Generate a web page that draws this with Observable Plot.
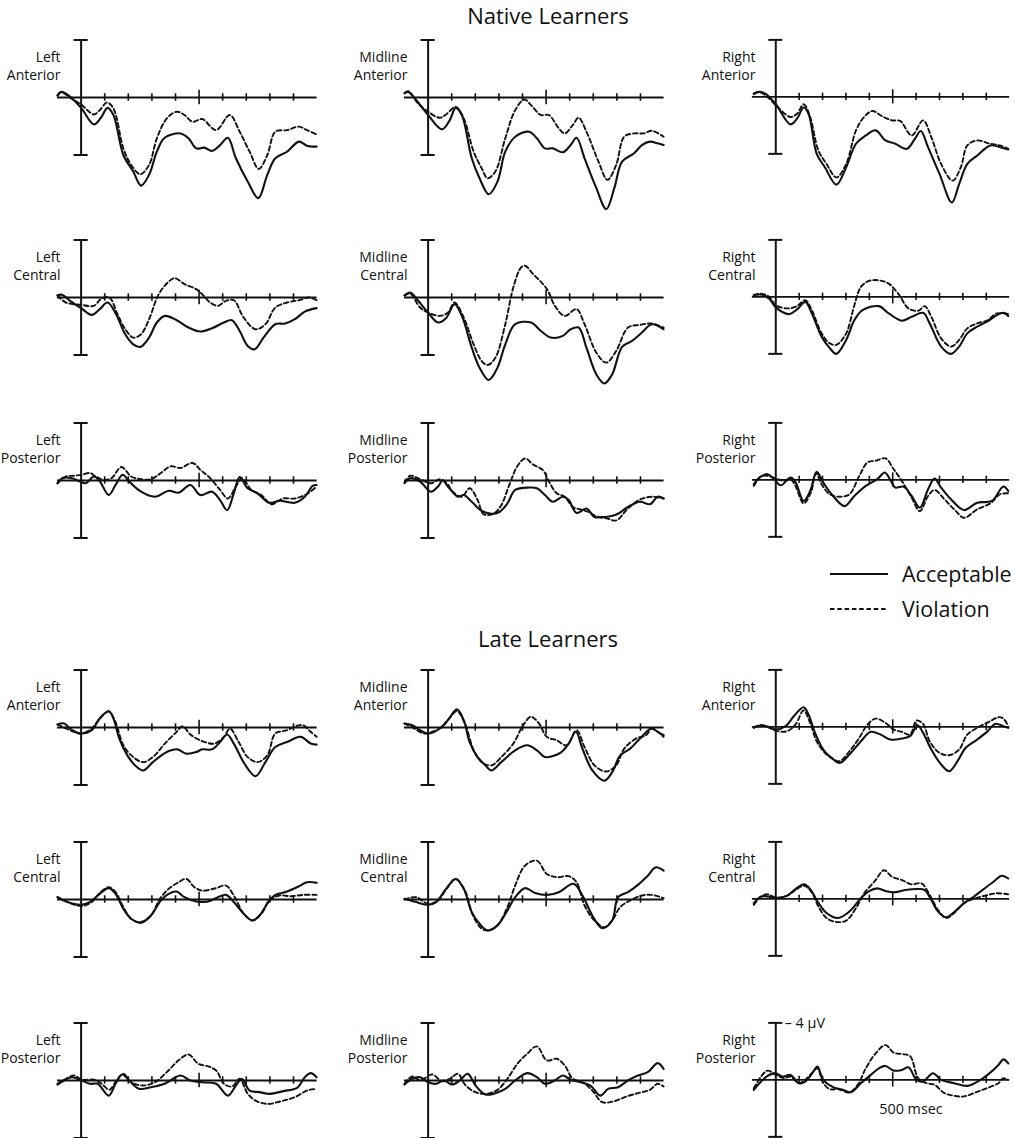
<!DOCTYPE html>
<html><head><meta charset="utf-8">
<script src="https://cdn.jsdelivr.net/npm/d3@7"></script>
<script src="https://cdn.jsdelivr.net/npm/@observablehq/plot@0.6"></script>
<style>
body{margin:0;background:#fff;}
#fig{position:relative;width:1015px;height:1138px;overflow:hidden;font-family:"Open Sans",sans-serif;color:#111;background:#fff;}
.lab{position:absolute;text-align:right;font-size:14px;line-height:18px;white-space:nowrap;width:120px;}
.title{position:absolute;left:348px;width:400px;text-align:center;font-size:22px;line-height:30px;}
.leg{position:absolute;font-size:21.5px;line-height:30px;white-space:nowrap;}
.panel{position:absolute;}
</style></head><body>
<div id="fig"></div>
<script>
// ---------- labels ----------
const groupTitles = ["Native Learners", "Late Learners"];
const colNames = ["Left", "Midline", "Right"];
const rowNames = ["Anterior", "Central", "Posterior"];
const legendLabels = ["Acceptable", "Violation"];
const voltLabel = "\u2013 4 \u00b5V";
const timeLabel = "500 msec";
const tickTimes = [100, 200, 300, 400, 600, 700, 800, 900];
const longTick = [500];

// ---------- data: [time ms, amplitude µV] (negative plotted up) ----------
// Native learners
const naLA_acc = [[-100,-0.12],[-84,-0.39],[-55,-0.16],[0,0.72],[54,1.87],[84,1.41],[112,0.72],[137,1.22],[179,4.0],[221,5.15],[254,6.13],[288,5.38],[321,3.77],[354,2.80],[421,2.5],[455,2.84],[488,3.54],[522,3.49],[555,3.72],[589,3.31],[622,2.80],[656,4.23],[706,5.85],[751,7.0],[789,5.38],[823,4.23],[873,3.77],[923,3.07],[957,3.35],[998,3.42]];
const naLA_vio = [[-100,-0.16],[-84,-0.39],[-47,0.02],[0,0.49],[54,1.18],[79,0.88],[109,0.35],[137,0.76],[179,3.54],[212,4.69],[251,5.34],[288,4.69],[321,2.84],[363,1.46],[405,0.99],[438,1.22],[472,1.69],[513,1.50],[572,2.27],[630,1.22],[672,2.38],[714,3.77],[753,4.97],[789,4.0],[823,2.38],[873,2.27],[923,2.03],[957,2.27],[998,2.57]];
const naMA_acc = [[-100,-0.28],[-84,-0.39],[-50,0.18],[0,1.22],[59,2.22],[92,1.57],[117,0.72],[143,1.22],[185,4.23],[218,5.62],[257,6.73],[294,5.85],[327,3.77],[369,2.73],[428,2.38],[461,2.84],[495,3.54],[529,3.54],[571,3.81],[604,3.31],[629,2.80],[663,4.23],[713,6.31],[755,7.77],[789,6.31],[822,4.46],[873,3.88],[906,3.31],[940,3.07],[973,3.19],[998,3.31]];
const naMA_vio = [[-100,-0.32],[-84,-0.44],[-42,0.42],[0,0.99],[50,1.41],[76,1.18],[117,0.65],[151,1.46],[193,3.77],[227,4.92],[252,5.62],[285,5.15],[327,2.84],[369,0.88],[408,0.14],[436,0.53],[478,1.22],[512,1.22],[554,2.15],[579,2.50],[613,1.92],[638,1.41],[671,2.38],[722,4.46],[760,5.73],[797,4.69],[831,2.73],[873,2.50],[914,2.50],[948,2.31],[998,2.73]];
const naRA_acc = [[-94,-0.19],[-70,-0.35],[-42,-0.19],[0,0.52],[63,1.93],[91,1.53],[119,0.75],[140,1.18],[175,4.0],[210,4.94],[259,6.16],[301,4.94],[343,3.29],[385,2.71],[427,2.35],[469,3.06],[511,3.29],[560,3.65],[595,2.94],[620,2.40],[651,3.53],[700,5.41],[753,7.41],[784,6.12],[819,4.71],[861,4.12],[917,3.41],[959,3.53],[994,3.69]];
const naRA_vio = [[-94,-0.24],[-70,-0.35],[-28,0.12],[0,0.59],[63,1.41],[91,1.18],[119,0.52],[147,1.41],[182,3.76],[217,4.71],[259,5.65],[301,4.71],[343,2.35],[378,1.41],[413,0.99],[455,1.36],[497,1.65],[532,1.69],[581,2.71],[630,1.65],[665,2.82],[707,4.71],[756,5.88],[791,4.94],[819,3.41],[861,3.06],[917,3.29],[959,3.41],[994,3.65]];
const naLC_acc = [[-100,-0.16],[-80,-0.19],[-47,0.23],[0,0.74],[45,1.21],[79,0.81],[112,0.35],[145,1.05],[187,2.56],[221,3.26],[251,3.44],[288,2.79],[321,1.74],[355,1.28],[405,1.58],[455,2.09],[505,2.37],[555,2.14],[605,1.74],[639,1.58],[672,2.33],[706,3.37],[736,3.60],[773,2.79],[823,1.86],[864,1.81],[906,1.51],[948,0.98],[998,0.74]];
const naLC_vio = [[-100,-0.12],[-64,0.35],[0,0.51],[54,0.58],[87,0.07],[120,0],[154,1.16],[187,2.21],[221,2.79],[254,2.56],[288,1.51],[329,-0.23],[368,-1.05],[396,-1.35],[438,-0.93],[488,-0.58],[513,-0.23],[547,0.35],[580,0.58],[614,0.23],[647,0.19],[689,1.40],[739,2.21],[781,1.86],[823,0.70],[873,0.35],[923,0.19],[965,0],[998,0.19]];
const naMC_acc = [[-100,-0.16],[-76,-0.35],[-42,0.23],[0,1.05],[42,1.74],[76,1.44],[112,0.47],[143,1.28],[185,3.49],[218,4.88],[257,5.74],[294,4.88],[327,3.26],[369,1.86],[436,1.74],[478,2.33],[520,2.79],[571,2.67],[604,2.21],[638,2.09],[671,3.49],[713,5.35],[747,5.98],[780,5.35],[822,3.44],[864,3.02],[906,2.44],[948,1.86],[998,2.21]];
const naMC_vio = [[-100,-0.12],[-76,-0.28],[-34,0.70],[0,1.05],[50,1.28],[84,1.05],[112,0.35],[151,1.40],[193,3.26],[227,4.42],[252,4.70],[285,4.19],[327,1.86],[361,-0.70],[394,-2.09],[411,-2.21],[445,-1.63],[487,-0.93],[508,-0.47],[537,0.58],[579,1.28],[629,0.81],[663,1.86],[713,3.84],[755,4.53],[797,3.72],[847,2.09],[897,1.91],[948,1.81],[998,2.09]];
const naRC_acc = [[-94,-0.12],[-63,-0.16],[-28,0.12],[0,0.74],[56,1.21],[91,0.88],[126,0.35],[154,1.16],[196,2.79],[231,3.60],[259,4.0],[301,3.02],[336,1.63],[371,0.93],[441,0.65],[483,1.16],[539,1.67],[581,1.40],[630,1.12],[658,1.86],[707,3.49],[749,4.0],[784,3.49],[819,2.56],[861,2.09],[903,1.74],[945,1.28],[973,1.12],[994,1.35]];
const naRC_vio = [[-94,-0.12],[-63,-0.23],[-28,0],[0,0.58],[49,0.81],[91,0.65],[126,0.23],[154,0.93],[196,2.56],[231,3.26],[259,3.37],[301,2.56],[336,0.58],[364,-0.70],[399,-1.12],[441,-1.16],[483,-0.93],[525,-0.19],[567,0.81],[609,0.98],[637,0.65],[665,1.40],[707,2.91],[749,3.49],[784,3.02],[819,2.21],[861,1.86],[903,1.67],[945,1.16],[994,1.21]];
const naLP_acc = [[-100,0.19],[-80,-0.16],[-38,-0.16],[-5,0.07],[20,0.19],[54,-0.28],[79,0.05],[117,1.01],[146,0.31],[176,-0.40],[204,0.07],[254,0.78],[313,1.13],[371,0.71],[413,0.85],[463,0.31],[505,1.01],[555,0.78],[589,1.36],[619,2.07],[647,0.89],[672,-0.24],[706,0.54],[747,0.89],[798,1.55],[840,1.41],[906,1.55],[948,1.13],[981,0.38],[998,0.31]];
const naLP_vio = [[-100,0.19],[-64,-0.28],[-30,-0.33],[3,-0.40],[37,-0.52],[62,-0.28],[95,-0.05],[129,-0.16],[171,-0.94],[212,-0.28],[254,-0.09],[296,-0.09],[338,-0.52],[380,-0.99],[421,-0.87],[472,-1.22],[505,-0.75],[547,-0.16],[589,0.66],[622,1.25],[656,0.42],[681,-0.16],[722,0.66],[764,1.01],[806,1.65],[856,1.25],[906,1.25],[957,0.94],[998,0.42]];
const naMP_acc = [[-100,0.19],[-76,-0.16],[-34,0.07],[12,0.78],[42,0.42],[62,0],[84,0.42],[126,1.13],[151,1.01],[185,1.48],[227,2.12],[268,2.31],[302,2.19],[336,1.60],[369,0.66],[428,0.49],[461,0.54],[495,1.01],[529,1.48],[571,1.13],[596,1.36],[629,2.26],[671,1.95],[705,2.54],[738,2.54],[772,2.49],[805,2.31],[847,1.84],[898,1.48],[940,1.65],[973,1.13],[998,1.25]];
const naMP_vio = [[-100,0.14],[-76,-0.33],[-34,-0.09],[12,0.19],[50,-0.09],[76,0.14],[109,0.85],[143,1.13],[176,0.54],[210,1.36],[235,2.35],[277,2.31],[310,1.72],[344,0.31],[378,-0.99],[411,-1.53],[445,-1.11],[487,-0.71],[512,0.07],[545,0.89],[579,1.13],[613,1.84],[646,2.02],[680,2.19],[713,2.49],[763,2.66],[797,2.78],[847,1.95],[898,1.32],[948,1.13],[998,1.25]];
const naRP_acc = [[-94,0.31],[-70,-0.16],[-35,-0.40],[-7,-0.05],[21,0.38],[63,-0.16],[84,0.14],[119,1.48],[147,0.78],[175,-0.56],[203,0.19],[245,1.13],[294,1.84],[336,1.13],[385,0.42],[434,-0.05],[466,-0.52],[490,0],[511,0.54],[546,0.47],[581,1.13],[616,1.95],[651,0.66],[679,-0.09],[707,0.54],[749,1.36],[805,2.12],[861,1.60],[924,1.48],[973,0.47],[994,0.78]];
const naRP_vio = [[-94,0.42],[-63,-0.24],[-35,-0.28],[0,-0.09],[35,0.07],[63,-0.05],[84,0.42],[119,1.65],[150,0.89],[172,-0.47],[196,0.31],[231,1.01],[273,1.18],[315,1.01],[357,-0.28],[392,-1.22],[427,-1.34],[469,-1.51],[504,-0.75],[539,0.07],[581,1.25],[616,2.19],[651,1.13],[679,0.71],[721,1.36],[763,2.07],[805,2.66],[861,2.07],[917,1.65],[959,1.01],[994,0.94]];
// Late learners
const laLA_acc = [[-100,-0.21],[-72,-0.28],[-38,0.19],[0,0.42],[45,0.19],[79,-0.63],[117,-1.15],[137,-0.63],[162,0.77],[196,1.94],[229,2.64],[263,2.99],[304,2.41],[363,1.71],[408,1.52],[446,1.82],[488,1.71],[513,1.52],[555,1.52],[589,1.01],[619,0.49],[647,1.12],[697,2.64],[739,3.39],[781,2.41],[823,1.36],[873,1.01],[931,0.65],[973,1.12],[998,1.19]];
const laLA_vio = [[-100,-0.21],[-64,0.07],[-30,0.30],[0,0.42],[45,0.07],[79,-0.63],[117,-1.10],[145,-0.40],[179,1.24],[221,2.06],[263,2.41],[304,2.06],[355,1.12],[405,0.30],[430,-0.09],[463,0.49],[505,0.89],[564,1.12],[605,0.65],[631,0.07],[664,0.89],[706,2.06],[747,2.41],[789,1.94],[823,0.42],[873,0.19],[915,-0.12],[940,-0.16],[973,0.30],[998,0.65]];
const laMA_acc = [[-100,-0.28],[-67,-0.16],[-34,0.19],[0,0.42],[50,0.07],[84,-0.51],[122,-1.26],[151,-0.51],[176,1.01],[210,2.06],[243,2.64],[268,2.99],[310,2.41],[369,1.59],[420,1.24],[461,1.59],[495,2.06],[529,1.99],[562,1.75],[596,1.12],[626,0.30],[654,1.47],[696,2.99],[747,3.70],[780,3.11],[814,1.94],[856,1.47],[898,0.77],[945,0.07],[973,0.30],[998,0.54]];
const laMA_vio = [[-100,-0.28],[-59,0.07],[-17,0.42],[17,0.30],[59,-0.05],[89,-0.63],[122,-1.15],[156,-0.28],[193,1.59],[227,2.41],[268,2.64],[310,2.06],[361,1.12],[403,-0.16],[436,-0.75],[470,-0.28],[503,0.65],[545,0.89],[587,1.24],[629,0.19],[663,1.36],[705,2.64],[755,3.06],[797,2.64],[831,1.47],[881,0.77],[923,0.54],[948,0.07],[973,0.30],[998,0.65]];
const laRA_acc = [[-94,0.07],[-63,-0.12],[-28,0.02],[0,0.19],[42,-0.05],[77,-0.75],[119,-1.38],[140,-0.87],[168,0.42],[203,1.59],[238,2.18],[273,2.53],[315,1.94],[364,1.01],[406,0.35],[448,0.54],[490,0.89],[539,0.82],[574,0.65],[606,-0.12],[630,0.42],[665,1.59],[707,2.64],[742,3.11],[777,2.41],[812,1.47],[861,0.89],[903,0.35],[938,-0.21],[973,-0.05],[994,0.07]];
const laRA_vio = [[-94,0.02],[-63,-0.12],[-28,0.07],[7,0.30],[49,0.30],[84,-0.16],[119,-1.15],[147,-0.28],[175,1.01],[210,1.82],[238,2.18],[273,2.41],[315,1.71],[357,0.77],[392,-0.16],[427,-0.58],[469,-0.28],[504,0.19],[539,0.35],[574,0.54],[602,-0.44],[630,-0.21],[658,1.01],[700,1.82],[742,1.99],[784,1.59],[819,0.54],[861,0.07],[917,-0.40],[952,-0.68],[973,-0.58],[994,-0.05]];
const laLC_acc = [[-100,-0.16],[-64,0.14],[0,0.37],[37,0.18],[79,-0.39],[117,-0.79],[146,-0.39],[179,0.65],[212,1.34],[254,1.62],[296,1.11],[338,0.07],[371,-0.39],[405,-0.55],[438,-0.16],[488,0.14],[538,0.14],[580,-0.16],[614,-0.32],[647,0.18],[689,0.99],[726,1.46],[756,1.11],[798,0.07],[823,-0.32],[873,-0.55],[923,-0.92],[957,-1.20],[998,-1.16]];
const laLC_vio = [[-100,-0.16],[-55,0.18],[0,0.46],[45,0.18],[79,-0.46],[117,-0.86],[146,-0.51],[179,0.53],[212,1.34],[251,1.57],[296,1.11],[334,-0.05],[371,-0.74],[413,-1.20],[446,-1.43],[480,-0.86],[513,-0.62],[572,-0.79],[614,-0.97],[647,-0.28],[689,0.99],[726,1.46],[764,0.99],[798,0.07],[840,-0.28],[890,-0.23],[940,-0.32],[998,-0.32]];
const laMC_acc = [[-100,-0.05],[-50,0.18],[0,0.37],[34,0.18],[76,-0.74],[117,-1.43],[151,-0.74],[185,0.88],[218,1.69],[252,2.15],[294,1.80],[336,0.76],[369,-0.16],[411,-0.79],[453,-0.46],[503,-0.32],[554,-0.51],[616,-1.09],[654,-0.28],[696,1.11],[738,1.99],[780,1.46],[805,-0.16],[847,-0.51],[889,-1.02],[931,-1.66],[965,-2.24],[998,-2.01]];
const laMC_vio = [[-100,0],[-50,-0.16],[0,0.30],[42,0.07],[76,-0.69],[117,-1.43],[156,-0.62],[190,1.11],[227,2.03],[257,2.15],[294,1.80],[336,0.53],[369,-0.97],[411,-2.36],[461,-2.70],[503,-1.78],[545,-1.55],[596,-1.62],[629,-1.20],[663,0.42],[705,1.46],[747,1.92],[780,1.46],[814,0.53],[856,0.07],[906,-0.28],[948,-0.32],[998,-0.09]];
const laRC_acc = [[-94,0.30],[-63,-0.16],[-28,-0.16],[0,-0.05],[49,-0.23],[84,-0.69],[122,-1.02],[150,-0.62],[178,0.18],[217,0.99],[266,1.34],[315,0.88],[364,-0.05],[399,-0.55],[434,-0.74],[469,-0.55],[504,-0.46],[553,-0.62],[609,-0.69],[637,-0.62],[665,0.07],[693,0.88],[728,1.29],[763,0.92],[805,0.30],[847,-0.16],[889,-0.69],[931,-1.20],[966,-1.62],[994,-1.43]];
const laRC_vio = [[-94,0.42],[-63,-0.16],[-35,-0.32],[0,-0.09],[49,-0.23],[84,-0.62],[122,-0.92],[154,-0.46],[182,0.53],[217,1.34],[259,1.62],[301,1.53],[343,0.65],[378,-0.39],[427,-1.32],[462,-2.01],[497,-1.55],[539,-1.32],[581,-1.02],[623,-1.09],[658,-0.28],[693,0.76],[728,1.34],[763,0.99],[805,0.30],[847,0],[896,-0.23],[945,-0.39],[994,-0.32]];
const laLP_acc = [[-100,0.28],[-72,0],[-38,-0.23],[3,0],[37,0.23],[70,0.23],[117,1.05],[146,0.23],[174,-0.42],[204,0],[246,0.58],[296,0.47],[354,0.23],[421,-0.35],[463,0],[513,0.12],[572,0.23],[622,1.05],[656,0.35],[681,-0.12],[714,0.70],[756,0.81],[798,0.93],[856,0.74],[915,0.51],[948,-0.23],[973,-0.51],[998,-0.23]];
const laLP_vio = [[-100,0.23],[-64,-0.12],[-30,-0.35],[3,-0.05],[54,-0.05],[87,0.23],[120,0.65],[150,0],[179,-0.47],[212,0.12],[263,0.35],[313,0.12],[363,-0.58],[413,-1.40],[455,-1.81],[497,-1.16],[539,-0.98],[572,-0.70],[606,0.23],[639,0.42],[672,-0.12],[706,0.93],[739,1.40],[789,1.63],[848,1.44],[906,1.16],[957,0.70],[998,0.58]];
const laMP_acc = [[-100,0.28],[-67,-0.12],[-34,-0.23],[0,0.12],[34,0.23],[67,0],[101,0.28],[134,0],[168,-0.47],[201,0.35],[243,0.98],[285,0.88],[327,0.58],[369,0],[420,-0.51],[461,-0.23],[495,0.23],[537,0],[571,-0.35],[604,-0.05],[646,0.12],[688,0.35],[730,1.05],[763,0.58],[805,0.47],[847,0],[889,-0.35],[931,-0.58],[973,-1.21],[998,-0.81]];
const laMP_vio = [[-100,0.23],[-67,-0.28],[-34,0],[17,-0.42],[59,0.05],[92,-0.12],[126,-0.47],[159,0.35],[201,0.81],[243,0.93],[294,0.65],[336,-0.12],[378,-1.16],[420,-1.86],[461,-2.37],[503,-1.40],[545,-1.51],[579,-1.05],[613,-0.12],[654,0.12],[696,0.70],[738,1.51],[789,1.44],[839,1.12],[889,0.88],[940,0.65],[973,0.23],[998,0.42]];
const laRP_acc = [[-94,0.70],[-63,0.12],[-35,-0.28],[0,-0.47],[28,-0.23],[63,-0.35],[98,0.23],[126,0.12],[158,-0.51],[178,-0.93],[203,0],[245,0.51],[287,0.70],[322,0.86],[364,0.23],[406,-0.35],[441,-0.81],[469,-0.98],[504,-0.65],[539,-0.70],[567,-0.88],[602,0],[630,0.12],[672,-0.47],[707,0],[763,0.23],[819,0.42],[875,0],[917,-0.51],[952,-1.05],[973,-1.44],[994,-1.16]];
const laRP_vio = [[-94,0.58],[-63,-0.23],[-35,-0.65],[0,-0.35],[35,-0.12],[63,-0.23],[98,0.23],[126,0],[154,-0.47],[178,-0.81],[203,0.23],[231,0.65],[266,0.65],[315,0.88],[350,0.35],[385,-0.81],[427,-1.86],[469,-2.44],[504,-1.91],[539,-1.81],[574,-1.67],[609,-0.12],[644,0.23],[679,0.35],[721,0.93],[763,1.12],[805,1.16],[854,0.88],[903,0.58],[952,0.23],[973,-0.12],[994,0]];

const panelData = [
  [[naLA_acc,naLA_vio],[naMA_acc,naMA_vio],[naRA_acc,naRA_vio],
   [naLC_acc,naLC_vio],[naMC_acc,naMC_vio],[naRC_acc,naRC_vio],
   [naLP_acc,naLP_vio],[naMP_acc,naMP_vio],[naRP_acc,naRP_vio]],
  [[laLA_acc,laLA_vio],[laMA_acc,laMA_vio],[laRA_acc,laRA_vio],
   [laLC_acc,laLC_vio],[laMC_acc,laMC_vio],[laRC_acc,laRC_vio],
   [laLP_acc,laLP_vio],[laMP_acc,laMP_vio],[laRP_acc,laRP_vio]]
];

// ---------- layout ----------
const fig = document.getElementById("fig");
const colAxisX = [80.5, 427.5, 775.5];
const rowZeroY = [[97, 297, 480], [727, 899, 1080]];
const titleY = [0, 623];
const PXMS = 0.236, PXUV = 57.5 / 4;
const tMin = -100, tMax = 1000, vTop = -4.8, vBot = 8.4;
const mL = 12, mR = 6;
const W = mL + (tMax - tMin) * PXMS + mR;
const H = (vBot - vTop) * PXUV;
const FONT = "Open Sans, sans-serif";
const INK = "#111";
const DASH = "4.5,2.8";

function panel(acc, vio, extra) {
  const marks = [
    Plot.ruleY([0], {stroke: INK, strokeWidth: 2}),
    Plot.ruleX([0], {y1: -4, y2: 4, stroke: INK, strokeWidth: 2}),
    Plot.ruleY([-4, 4], {x1: -30, x2: 30, stroke: INK, strokeWidth: 2}),
    Plot.ruleX(tickTimes, {y1: -0.26, y2: 0.26, stroke: INK, strokeWidth: 1.6}),
    Plot.ruleX(longTick, {y1: -0.5, y2: 0.5, stroke: INK, strokeWidth: 1.6}),
    Plot.line(vio, {x: d => d[0], y: d => d[1], curve: "catmull-rom", stroke: INK, strokeWidth: 1.9, strokeDasharray: DASH}),
    Plot.line(acc, {x: d => d[0], y: d => d[1], curve: "catmull-rom", stroke: INK, strokeWidth: 2.1})
  ];
  if (extra) {
    marks.push(Plot.text([voltLabel], {x: 0, y: -4, text: d => d, dx: 9, textAnchor: "start", fontSize: 14.5, fill: INK}));
    marks.push(Plot.text([timeLabel], {x: 578, y: 2.1, text: d => d, textAnchor: "middle", fontSize: 14.5, fill: INK}));
  }
  return Plot.plot({
    width: W, height: H, marginLeft: mL, marginRight: mR, marginTop: 0, marginBottom: 0,
    x: {domain: [tMin, tMax], axis: null},
    y: {domain: [vTop, vBot], reverse: true, axis: null},
    style: {background: "transparent", overflow: "visible", fontFamily: FONT},
    marks
  });
}

groupTitles.forEach((t, g) => {
  const d = document.createElement("div");
  d.className = "title"; d.style.top = titleY[g] + "px"; d.textContent = t;
  fig.appendChild(d);
  for (let r = 0; r < 3; r++) for (let c = 0; c < 3; c++) {
    const [acc, vio] = panelData[g][r * 3 + c];
    const svg = panel(acc, vio, g === 1 && r === 2 && c === 2);
    const wrap = document.createElement("div");
    wrap.className = "panel";
    wrap.style.left = (colAxisX[c] - mL + tMin * PXMS) + "px";
    wrap.style.top = (rowZeroY[g][r] + vTop * PXUV) + "px";
    wrap.appendChild(svg);
    fig.appendChild(wrap);
    const lab = document.createElement("div");
    lab.className = "lab";
    lab.style.left = (colAxisX[c] - 20 - 120) + "px";
    lab.style.top = (rowZeroY[g][r] - 49) + "px";
    lab.innerHTML = colNames[c] + "<br>" + rowNames[r];
    fig.appendChild(lab);
  }
});

// legend
const legY = [574, 609];
legendLabels.forEach((t, i) => {
  const s = document.createElementNS("http://www.w3.org/2000/svg", "svg");
  s.setAttribute("width", 60); s.setAttribute("height", 6);
  s.style.position = "absolute"; s.style.left = "829px"; s.style.top = (legY[i] - 3) + "px";
  const ln = document.createElementNS("http://www.w3.org/2000/svg", "line");
  ln.setAttribute("x1", 1); ln.setAttribute("x2", 59); ln.setAttribute("y1", 3); ln.setAttribute("y2", 3);
  ln.setAttribute("stroke", INK); ln.setAttribute("stroke-width", 2);
  if (i === 1) ln.setAttribute("stroke-dasharray", DASH);
  s.appendChild(ln); fig.appendChild(s);
  const d = document.createElement("div");
  d.className = "leg"; d.style.left = "902px"; d.style.top = (legY[i] - 15) + "px"; d.textContent = t;
  fig.appendChild(d);
});
</script></body></html>
